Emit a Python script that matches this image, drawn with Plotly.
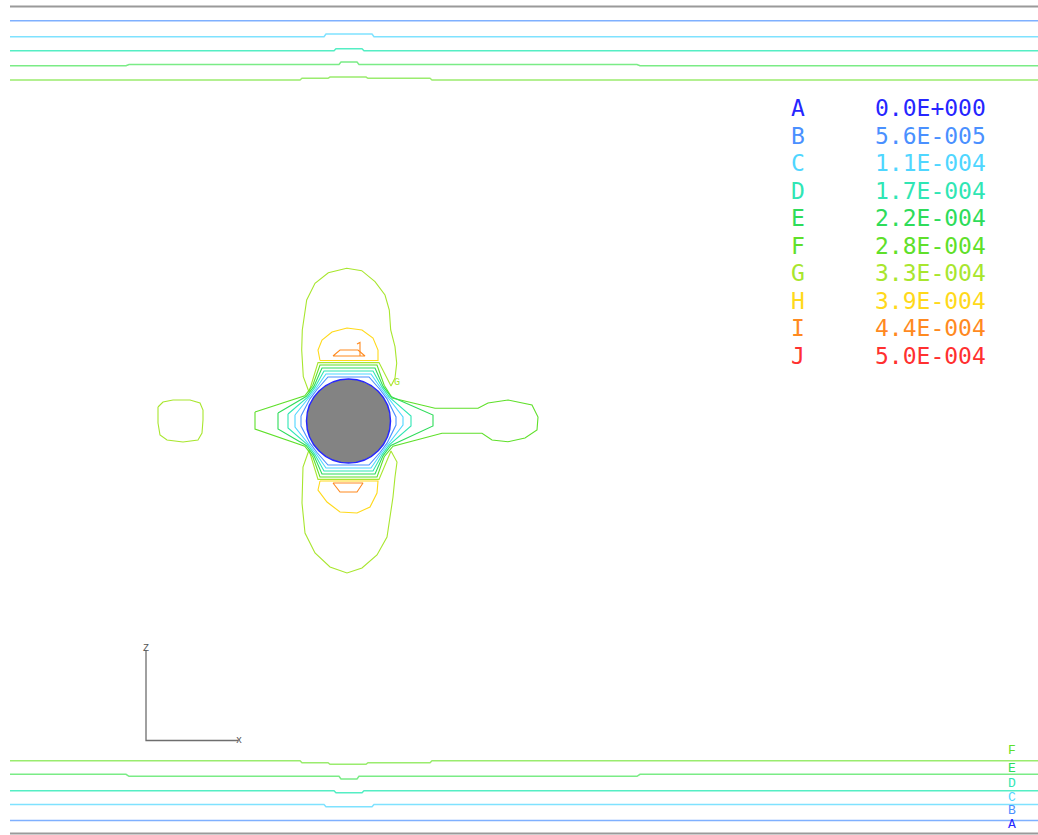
import plotly.graph_objects as go

# ---- contour levels (legend) ----
level_names = ["A", "B", "C", "D", "E", "F", "G", "H", "I", "J"]
level_values = ["0.0E+000", "5.6E-005", "1.1E-004", "1.7E-004", "2.2E-004",
                "2.8E-004", "3.3E-004", "3.9E-004", "4.4E-004", "5.0E-004"]
level_colors = ["#2626ff", "#4a90ff", "#4fd6ff", "#2fe6b4", "#2edc5a",
                "#5fe02a", "#a8e62e", "#ffd91a", "#ff8a1f", "#ff3030"]
# paler tints used for the long channel isolines
channel_colors = {"B": "#7fb0ff", "C": "#7fe2ff", "D": "#55eec4",
                  "E": "#7aec86", "F": "#9aec6e"}

# ---- channel walls ----
wall_x = [10, 1038]
wall_top_y = 6.5
wall_bottom_y = 833.5

# ---- isolines running along the channel (x, y) ----
top_B = [(10, 20.7), (1038, 20.7)]
top_C = [(10, 36.7), (324, 36.7), (326, 34), (372, 34), (374, 36.7), (1038, 36.7)]
top_D = [(10, 50.7), (334, 50.7), (336, 48.7), (362, 48.7), (364, 50.7), (1038, 50.7)]
top_E = [(10, 65.7), (126, 65.7), (129, 64.5), (339, 64.5), (341, 62), (357, 62),
         (359, 64.5), (637, 64.5), (640, 65.7), (1038, 65.7)]
top_F = [(10, 80), (300, 80), (302, 78.3), (328, 78.3), (330, 77), (366, 77),
         (368, 78.3), (430, 78.3), (432, 80), (1038, 80)]

bot_B = [(10, 820.5), (1038, 820.5)]
bot_C = [(10, 804.5), (324, 804.5), (326, 806.7), (372, 806.7), (374, 804.5), (1038, 804.5)]
bot_D = [(10, 790.7), (334, 790.7), (336, 792.7), (362, 792.7), (364, 790.7), (1038, 790.7)]
bot_E = [(10, 774.3), (126, 774.3), (129, 776.3), (339, 776.3), (341, 779), (357, 779),
         (359, 776.3), (637, 776.3), (640, 774.3), (1038, 774.3)]
bot_F = [(10, 760.7), (300, 760.7), (302, 762.7), (328, 762.7), (330, 764.3), (366, 764.3),
         (368, 762.7), (430, 762.7), (432, 760.7), (1038, 760.7)]

# ---- cylinder ----
cyl_cx, cyl_cy, cyl_r = 348.5, 421.0, 42.0

# ---- isolines wrapped around the cylinder ----
ring_B = [(301, 416), (310, 398.8), (317, 389.5), (328, 377), (369, 377), (380, 389.5),
          (387, 398.8), (396, 417), (396, 425), (387, 443.2), (380, 452.5), (369, 465),
          (328, 465), (317, 452.5), (310, 443.2), (301, 426), (301, 416)]
ring_C = [(295, 415), (308.7, 398), (316, 388.5), (326, 374), (371, 374), (381, 388.5),
          (388.3, 398), (403, 417), (403, 425), (388.3, 444), (381, 453.5), (371, 468),
          (326, 468), (316, 453.5), (308.7, 444), (295, 427), (295, 415)]
ring_D = [(288, 414), (307.4, 397.3), (314.9, 387.4), (324, 371), (373, 371), (382.1, 387.4),
          (389.6, 397.3), (411, 416), (411, 426), (389.6, 444.7), (382.1, 454.6), (373, 471),
          (324, 471), (314.9, 454.6), (307.4, 444.7), (288, 428), (288, 414)]
ring_E = [(278, 413), (306.1, 396.5), (313.9, 386.4), (322, 368), (375, 368), (383.1, 386.4),
          (390.9, 396.5), (433, 415), (433, 426), (390.9, 445.5), (383.1, 455.6), (375, 474),
          (322, 474), (313.9, 455.6), (306.1, 445.5), (278, 429), (278, 413)]
ring_F = [(255, 412), (304.8, 395.8), (312.8, 385.3), (320, 365), (377, 365), (384.2, 385.3),
          (392.2, 398), (435, 408.3), (478, 408.3), (488, 403), (508, 400), (532, 405),
          (538, 417), (537, 430), (525, 438), (508, 441.7), (492, 440), (482, 433.3),
          (442, 433.3), (393, 446.2), (384.2, 456.7), (377, 477), (320, 477), (312.8, 456.7),
          (304.8, 446.2), (255, 429), (255, 412)]

# G: upper and lower lobes plus the small island upstream
lobe_G_top = [(309, 392), (303.3, 376.7), (301.7, 350), (302.3, 330), (306.7, 300), (315, 283.3),
              (328.3, 272.7), (346.7, 268.3), (361.7, 270.7), (375, 281.7), (385, 295),
              (389.3, 310), (390.7, 330), (395, 346.7), (396.7, 363.3), (395, 378), (391, 386),
              (379, 362.6), (318, 362.6), (309, 392)]
lobe_G_bot = [(309, 450), (303, 467), (302, 503), (305, 533), (315, 553), (330, 567), (347, 573),
              (362, 568), (377, 555), (387, 537), (390, 517), (393, 497), (395, 477), (397, 462),
              (391, 451), (379, 479.4), (318, 479.4), (309, 450)]
island_G = [(158, 407), (163, 402), (173, 400), (190, 400), (200, 403), (203, 410), (203, 420),
            (202, 433), (198, 440), (183, 442), (167, 440), (160, 435), (158, 423), (158, 407)]

# H: yellow lobes above and below the cylinder
lobe_H_top = [(320, 360.5), (318, 350), (322, 340), (332, 332), (347, 328), (362, 330),
              (373, 338), (378, 350), (378, 360.5), (320, 360.5)]
lobe_H_bot = [(320, 481), (318, 490), (327, 502), (340, 512), (357, 513), (370, 507),
              (377, 493), (378, 481), (320, 481)]

# I: small orange patches
patch_I_top = [(333, 356), (340, 350), (358, 350), (365, 356), (333, 356)]
patch_I_bot = [(333, 483), (363, 483), (357, 492), (340, 492), (333, 483)]
label_I_tick = [(357, 344), (360, 342.5), (360, 356)]

# ---- coordinate triad ----
triad_origin = (146, 740.5)
triad_z_end = (146, 650)
triad_x_end = (238, 740.5)


def path(points, color, width=1.0):
    xs = [p[0] for p in points]
    ys = [p[1] for p in points]
    return go.Scatter(x=xs, y=ys, mode="lines", hoverinfo="skip",
                      line=dict(color=color, width=width, shape="linear"))


col = dict(zip(level_names, level_colors))
fig = go.Figure()

# walls
fig.add_trace(path([(wall_x[0], wall_top_y), (wall_x[1], wall_top_y)], "#9a9a9a", 2.2))
fig.add_trace(path([(wall_x[0], wall_bottom_y), (wall_x[1], wall_bottom_y)], "#9a9a9a", 2.2))

# channel isolines
for name, pts in [("B", top_B), ("C", top_C), ("D", top_D), ("E", top_E), ("F", top_F),
                  ("B", bot_B), ("C", bot_C), ("D", bot_D), ("E", bot_E), ("F", bot_F)]:
    fig.add_trace(path(pts, channel_colors[name], 1.5))

# isolines around the cylinder
for name, pts in [("G", island_G), ("G", lobe_G_top), ("G", lobe_G_bot),
                  ("F", ring_F), ("E", ring_E), ("D", ring_D), ("C", ring_C), ("B", ring_B),
                  ("H", lobe_H_top), ("H", lobe_H_bot),
                  ("I", patch_I_top), ("I", patch_I_bot), ("I", label_I_tick)]:
    fig.add_trace(path(pts, col[name], 1.1))

# triad
fig.add_trace(path([triad_z_end, triad_origin, triad_x_end], "#6e6e6e", 1.3))

# cylinder, outlined by the zero isoline
fig.add_shape(type="circle", xref="x", yref="y",
              x0=cyl_cx - cyl_r, x1=cyl_cx + cyl_r, y0=cyl_cy - cyl_r, y1=cyl_cy + cyl_r,
              fillcolor="#838383", line=dict(color=col["A"], width=1.5), layer="above")

annotations = []
# legend block
legend_top, legend_step = 108.0, 27.5
for i, (name, val, c) in enumerate(zip(level_names, level_values, level_colors)):
    yy = legend_top + i * legend_step
    annotations.append(dict(x=798, y=yy, text=name, showarrow=False, xanchor="center",
                            yanchor="middle", borderpad=0,
                            font=dict(family="DejaVu Sans Mono", size=23, color=c)))
    annotations.append(dict(x=930, y=yy, text=val, showarrow=False, xanchor="center",
                            yanchor="middle", borderpad=0,
                            font=dict(family="DejaVu Sans Mono", size=23, color=c)))

# isoline tags at the lower wall
tag_y = {"F": 750, "E": 768, "D": 783, "C": 797, "B": 810, "A": 824}
for name, yy in tag_y.items():
    annotations.append(dict(x=1012, y=yy, text=name, showarrow=False, xanchor="center",
                            yanchor="middle", borderpad=0,
                            font=dict(family="Liberation Mono", size=13, color=col[name])))

# small tag on the upper G lobe
annotations.append(dict(x=397, y=382, text="G", showarrow=False, xanchor="center", yanchor="middle",
                        font=dict(family="Liberation Mono", size=10, color=col["G"])))
# triad labels
annotations.append(dict(x=146, y=648, text="Z", showarrow=False, xanchor="center", yanchor="middle",
                        font=dict(family="Liberation Mono", size=10, color="#555555")))
annotations.append(dict(x=239, y=740.5, text="x", showarrow=False, xanchor="center", yanchor="middle",
                        font=dict(family="Liberation Mono", size=10, color="#555555")))

fig.update_layout(
    width=1038, height=835, margin=dict(l=0, r=0, t=0, b=0),
    paper_bgcolor="white", plot_bgcolor="white", showlegend=False,
    xaxis=dict(range=[0, 1038], visible=False, fixedrange=True),
    yaxis=dict(range=[835, 0], visible=False, fixedrange=True),
    annotations=annotations,
)

fig.write_html("out.html")
